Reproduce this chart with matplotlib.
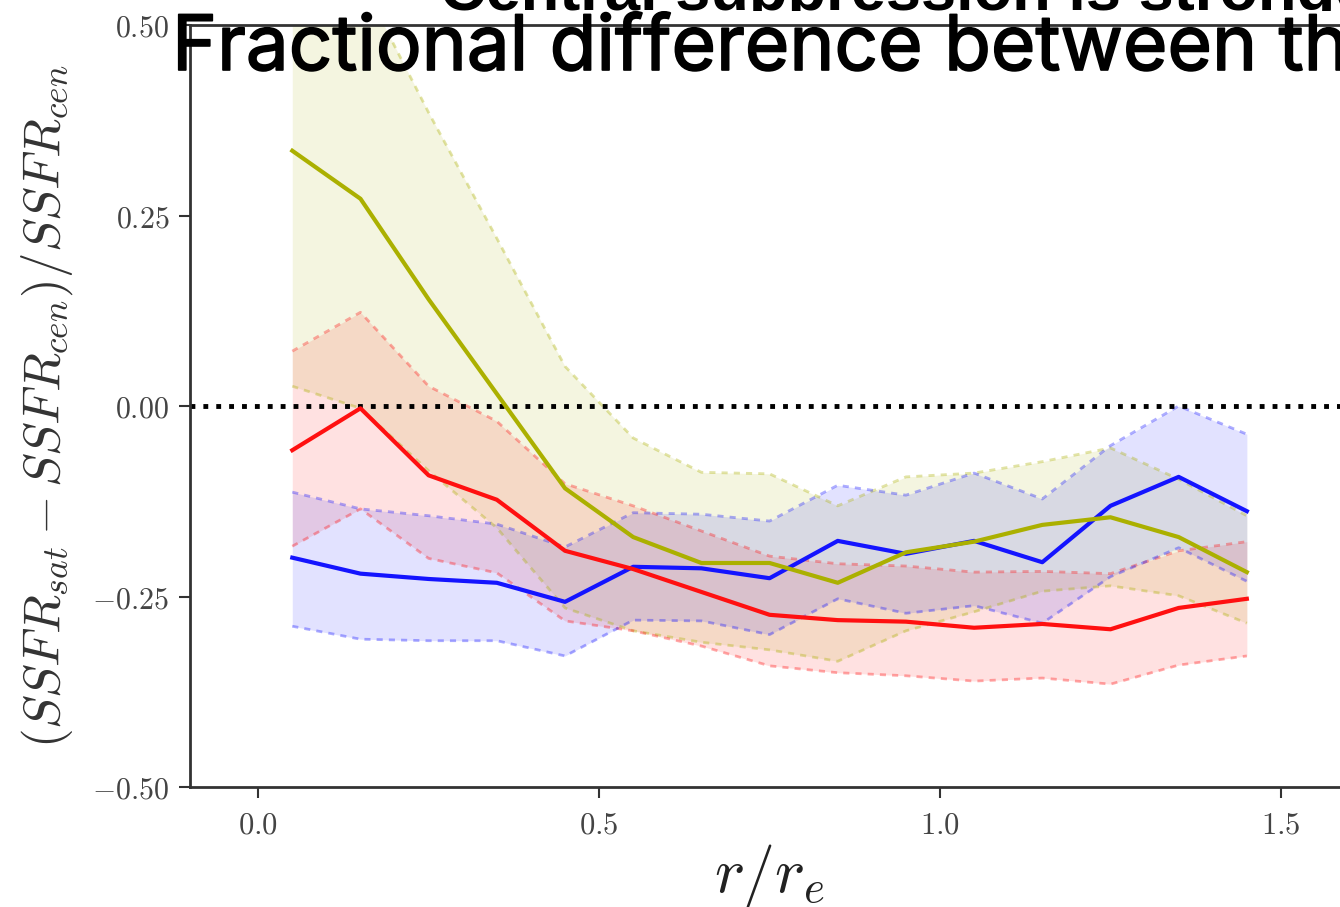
import numpy as np
import matplotlib
matplotlib.use('Agg')
import matplotlib.pyplot as plt
import matplotlib.patheffects as pe
from matplotlib.transforms import Bbox

plt.rcParams['mathtext.fontset'] = 'cm'

# radial bins (r / r_e)
r = [0.05, 0.15, 0.25, 0.35, 0.45, 0.55, 0.65, 0.75, 0.85, 0.95, 1.05, 1.15, 1.25, 1.35, 1.45]

# olive sample: median and spread
olive_med = [0.335, 0.272, 0.140, 0.016, -0.108, -0.172, -0.206, -0.206, -0.232, -0.192, -0.178, -0.156, -0.146, -0.172, -0.218]
olive_hi = [0.62, 0.56, 0.385, 0.22, 0.052, -0.042, -0.087, -0.089, -0.131, -0.093, -0.088, -0.073, -0.055, -0.096, -0.144]
olive_lo = [0.026, -0.003, -0.085, -0.160, -0.265, -0.295, -0.31, -0.32, -0.335, -0.295, -0.27, -0.243, -0.236, -0.249, -0.285]

# red sample
red_med = [-0.058, -0.003, -0.091, -0.123, -0.190, -0.214, -0.244, -0.274, -0.281, -0.283, -0.291, -0.286, -0.293, -0.265, -0.253]
red_hi = [0.072, 0.123, 0.026, -0.02, -0.102, -0.131, -0.164, -0.197, -0.207, -0.21, -0.218, -0.217, -0.22, -0.19, -0.178]
red_lo = [-0.184, -0.135, -0.20, -0.219, -0.282, -0.295, -0.315, -0.341, -0.35, -0.354, -0.361, -0.357, -0.365, -0.34, -0.328]

# blue sample
blue_med = [-0.199, -0.220, -0.227, -0.232, -0.257, -0.211, -0.213, -0.226, -0.177, -0.194, -0.177, -0.205, -0.131, -0.093, -0.138]
blue_hi = [-0.113, -0.135, -0.144, -0.155, -0.185, -0.14, -0.142, -0.151, -0.104, -0.117, -0.088, -0.122, -0.052, 0.0, -0.037]
blue_lo = [-0.289, -0.306, -0.308, -0.308, -0.328, -0.281, -0.282, -0.30, -0.253, -0.272, -0.262, -0.285, -0.224, -0.186, -0.23]

W, H = 1340, 907
fig = plt.figure(figsize=(W / 100, H / 100), dpi=100)
ax = fig.add_axes([0.1418, 0.1323, 0.865, 0.8401])

samples = [
    (olive_med, olive_lo, olive_hi, '#abb000'),
    (red_med, red_lo, red_hi, '#ff1010'),
    (blue_med, blue_lo, blue_hi, '#1414ff'),
]
for med, lo, hi, c in samples:
    ax.fill_between(r, lo, hi, color=c, alpha=0.12, lw=0)
    ax.plot(r, lo, color=c, alpha=0.35, lw=2, dashes=(2.2, 2.2))
    ax.plot(r, hi, color=c, alpha=0.35, lw=2, dashes=(2.2, 2.2))

ax.axhline(0, color='black', ls=':', lw=3.5)

for med, lo, hi, c in samples[::-1]:
    ax.plot(r, med, color=c, lw=3.0)

ax.set_xlim(-0.1, 1.6)
ax.set_ylim(-0.5, 0.5)
ax.set_xticks([0.0, 0.5, 1.0, 1.5])
ax.set_xticklabels(['$0.0$', '$0.5$', '$1.0$', '$1.5$'])
ax.set_yticks([-0.5, -0.25, 0.0, 0.25, 0.5])
ax.set_yticklabels(['$-0.50$', '$-0.25$', '$0.00$', '$0.25$', '$0.50$'])
ax.tick_params(labelcolor='#444444', length=8, width=1.5, color='#333333', pad=7)
ax.tick_params(axis='y', labelsize=21.5)
ax.tick_params(axis='x', labelsize=22, pad=9)
for s in ax.spines.values():
    s.set_linewidth(2)
    s.set_color('#333333')

ax.set_xlabel('$r/r_e$', fontsize=46, color='#222222', labelpad=2)
ax.set_ylabel('$(SSFR_{sat} - SSFR_{cen})/SSFR_{cen}$', fontsize=36.5, color='#333333', labelpad=12)

# headline sits mostly above the canvas; only the strip above the subtitle shows
sup = fig.text(440 / W, 1 - 10 / H, 'Central suppression is stronger in satellites',
               fontsize=45.5, fontweight='bold', family='Liberation Sans', va='baseline', ha='left')
sup.set_clip_box(Bbox([[0, H - 11], [W, H]]))
sup.set_clip_on(True)

fig.text(172 / W, 1 - 70 / H, 'Fractional difference between the SSFR of satellites and centrals',
         fontsize=55, family='Inter', va='baseline', ha='left',
         path_effects=[pe.withStroke(linewidth=1.2, foreground='black')])

fig.savefig('out.png', dpi=100)
